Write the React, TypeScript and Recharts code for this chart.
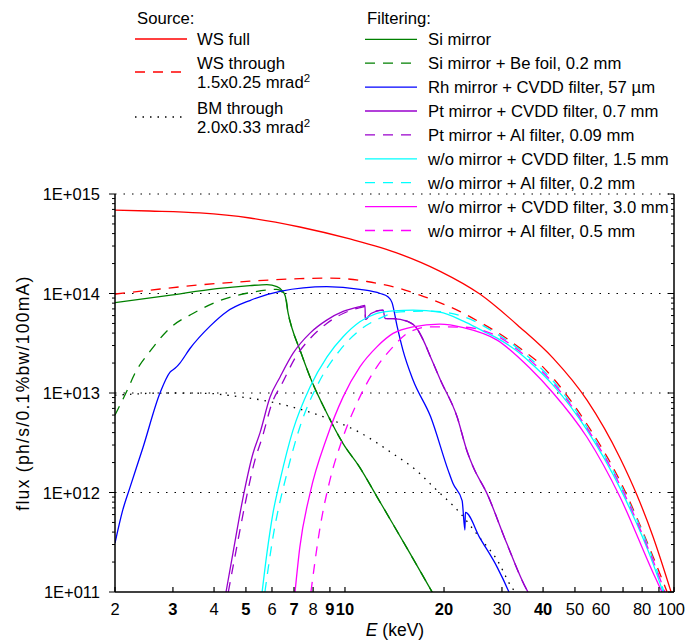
import { LineChart, Line, XAxis, YAxis, ReferenceLine } from 'recharts'

// [photon energy keV, flux ph/s/0.1%bw/100mA]
const wsFull: [number, number][] = [
  [2, 6.9e14], [2.55, 6.75e14], [3.62, 6.45e14], [5.14, 5.74e14], [7.29, 4.66e14], [10.35, 3.53e14],
  [14.7, 2.49e14], [19.4, 1.68e14], [25.7, 9.87e13], [34, 4.59e13], [42.9, 2.24e13], [54.4, 8.47e12],
  [68.6, 2.21e12], [77.2, 9.38e11], [86.3, 3.62e11], [98, 1.0e11],
]
const wsThrough: [number, number][] = [
  [2, 9.87e13], [2.55, 1.08e14], [3.62, 1.22e14], [5.14, 1.33e14], [7.29, 1.41e14], [9, 1.43e14],
  [11.67, 1.32e14], [14.7, 1.12e14], [16.9, 9.64e13], [19.4, 8.1e13], [22.4, 6.58e13], [25.7, 5.15e13],
  [29.6, 3.91e13], [34, 2.83e13], [39.2, 1.95e13], [42.9, 1.41e13], [54.4, 4.85e12], [68.6, 1.3e12],
  [86.3, 2.28e11], [95.3, 1.0e11],
]
const bmThrough: [number, number][] = [
  [2, 9.5e12], [2.88, 1.0e13], [3.89, 9.9e12], [4.38, 9.5e12], [5.79, 8.3e12], [6.95, 7.2e12],
  [8.8, 5.6e12], [11.1, 4.0e12], [14, 2.45e12], [16.5, 1.66e12], [18.5, 1.15e12], [22.4, 6.2e11],
  [25.7, 3.5e11], [29, 2.1e11], [32.2, 1.1e11], [32.9, 1.0e11],
]
const siMirror: [number, number][] = [
  [2, 8.1e13], [2.88, 9.5e13], [4.08, 1.12e14], [5.14, 1.2e14], [5.79, 1.23e14], [6.21, 1.17e14],
  [6.44, 1.07e14], [6.58, 9.5e13], [6.72, 6.3e13], [6.9, 4.5e13], [7.3, 2.7e13], [7.83, 1.45e13],
  [8.8, 6.3e12], [9.87, 3.1e12], [11.1, 1.78e12], [12.5, 9.1e11], [14, 4.8e11], [15.7, 2.5e11],
  [18.4, 1.0e11],
]
const siBe: [number, number][] = [
  [2, 6.0e12], [2.18, 1.07e13], [2.3, 1.58e13], [2.55, 2.6e13], [2.94, 4.5e13], [3.45, 6.3e13],
  [4.17, 8.5e13], [5.14, 1.02e14], [6.21, 1.1e14], [6.5, 1.0e14], [6.6, 9.3e13], [6.72, 6.3e13],
  [6.9, 4.5e13], [7.3, 2.7e13], [7.83, 1.45e13], [8.8, 6.3e12], [9.87, 3.1e12], [11.1, 1.78e12],
  [12.5, 9.1e11], [14, 4.8e11], [15.7, 2.5e11], [18.4, 1.0e11],
]
const rhCvdd: [number, number][] = [
  [2, 3.1e11], [2.11, 6.6e11], [2.22, 1.12e12], [2.43, 2.8e12], [2.74, 1.0e13], [2.94, 1.62e13],
  [3.05, 1.78e13], [3.15, 2.0e13], [3.38, 2.8e13], [3.89, 4.7e13], [4.38, 6.6e13], [5.14, 8.5e13],
  [6.35, 1.05e14], [8.8, 1.17e14], [11.1, 1.1e14], [12.8, 1.0e14], [13.5, 9.3e13], [13.9, 8.1e13],
  [14.4, 4.7e13], [15, 2.7e13], [16.1, 1.35e13], [18.2, 5.8e12], [20.6, 1.66e12], [21.3, 1.23e12],
  [22.7, 8.3e11], [23.15, 4.2e11], [23.22, 6.3e11], [25.7, 3.5e11], [29, 1.78e11], [31.3, 1.05e11],
  [31.5, 1.0e11],
]
const ptCvdd: [number, number][] = [
  [4.35, 1.0e11], [4.57, 2.5e11], [4.9, 8.9e11], [5.25, 2.45e12], [5.52, 4.0e12], [5.92, 9.1e12],
  [6.35, 1.45e13], [6.95, 2.5e13], [7.83, 4.0e13], [8.8, 5.4e13], [9.87, 6.6e13], [11.1, 7.4e13],
  [11.5, 7.6e13], [11.54, 5.5e13], [12, 6.3e13], [13.05, 6.8e13], [13.25, 5.6e13], [14, 5.6e13],
  [15.5, 5.25e13], [16.5, 4.5e13], [17.3, 3.4e13], [18.2, 2.3e13], [19.5, 1.35e13], [21.9, 5.8e12],
  [23.5, 2.6e12], [24.5, 1.82e12], [27, 9.8e11], [31, 3.1e11], [35.7, 1.05e11], [36, 1.0e11],
]
const ptAl: [number, number][] = [
  [4.42, 1.0e11], [4.65, 2.45e11], [4.98, 7.9e11], [5.33, 2.14e12], [5.6, 3.55e12], [6, 7.9e12],
  [6.45, 1.26e13], [7.05, 2.24e13], [7.9, 3.63e13], [8.8, 5.0e13], [9.87, 6.3e13], [11.1, 7.2e13],
  [11.5, 7.4e13], [11.54, 5.5e13], [12, 6.3e13], [13.05, 6.8e13], [13.25, 5.6e13], [14, 5.6e13],
  [15.5, 5.25e13], [16.5, 4.5e13], [17.3, 3.4e13], [18.2, 2.3e13], [19.5, 1.35e13], [21.9, 5.8e12],
  [23.5, 2.6e12], [24.5, 1.82e12], [27, 9.8e11], [31, 3.1e11], [35.7, 1.05e11], [36, 1.0e11],
]
const noneCvdd15: [number, number][] = [
  [5.6, 1.0e11], [5.79, 2.44e11], [6.04, 6.18e11], [6.35, 1.33e12], [6.95, 4.23e12], [7.83, 1.15e13],
  [8.82, 2.31e13], [9.87, 3.67e13], [11.1, 5.19e13], [12.5, 6.31e13], [14, 6.7e13], [16.1, 6.81e13],
  [19.4, 6.5e13], [22.9, 5.28e13], [26.3, 4.19e13], [29, 3.56e13], [33.3, 2.64e13], [36.5, 2.04e13],
  [42.9, 1.2e13], [54.4, 4.23e12], [68.6, 1.1e12], [86.3, 1.94e11], [92.6, 1.0e11],
]
const noneAl02: [number, number][] = [
  [5.71, 1.0e11], [6.04, 3.54e11], [6.66, 1.56e12], [7.29, 4.53e12], [8.4, 1.35e13], [9.66, 2.7e13],
  [11.1, 4.29e13], [12.8, 5.66e13], [14.7, 6.55e13], [18.1, 6.65e13], [22.9, 5.86e13], [29, 3.91e13],
  [36.5, 2.24e13], [42.9, 1.32e13], [54.4, 4.53e12], [68.6, 1.21e12], [86.3, 2.13e11], [93.3, 1.0e11],
]
const noneCvdd30: [number, number][] = [
  [7.05, 1.0e11], [7.29, 2.81e11], [7.83, 9.82e11], [8.82, 3.61e12], [9.87, 9.14e12], [11.1, 1.83e13],
  [12.5, 2.91e13], [14, 3.97e13], [16.1, 4.63e13], [19.4, 4.92e13], [22.9, 4.54e13], [29, 3.4e13],
  [36.5, 1.77e13], [42.9, 1.0e13], [54.4, 3.59e12], [68.6, 8.95e11], [86.3, 1.57e11], [91.9, 1.0e11],
]
const noneAl05: [number, number][] = [
  [7.88, 1.0e11], [8.4, 4.47e11], [9, 1.33e12], [9.87, 3.61e12], [11.1, 9.14e12], [12.5, 1.83e13],
  [14, 2.91e13], [15.5, 4.0e13], [18.1, 4.63e13], [22.9, 4.59e13], [29, 3.73e13], [36.5, 2.14e13],
  [42.9, 1.26e13], [54.4, 4.43e12], [68.6, 1.18e12], [86.3, 2.08e11], [93.9, 1.0e11],
]

const xTicks = [2, 3, 4, 5, 6, 7, 8, 9, 10, 20, 30, 40, 50, 60, 70, 80, 90, 100]
const xLabels: Record<number, string> = {
  2: '2', 3: '3', 4: '4', 5: '5', 6: '6', 7: '7', 8: '8', 9: '9', 10: '10',
  20: '20', 30: '30', 40: '40', 50: '50', 60: '60', 80: '80', 100: '100',
}
const xBold = [3, 5, 7, 9, 10, 20, 40]
const decades = [1e11, 1e12, 1e13, 1e14, 1e15]
const decadeLabels = ['1E+011', '1E+012', '1E+013', '1E+014', '1E+015']
const minorSteps = [2, 3, 4, 5, 6, 7, 8, 9]
const yTicks = [
  ...decades,
  ...decades.slice(0, 4).flatMap((d) => minorSteps.map((m) => d * m)),
].sort((a, b) => a - b)

const RED = '#ff0000'
const GREEN = '#008000'
const BLUE = '#0000ff'
const PURPLE = '#9900cc'
const CYAN = '#00ffff'
const MAGENTA = '#ff00ff'
const DASH = '10 8'
const DOTS = '1.5 6'
const FONT = '"Liberation Sans", Arial, sans-serif'

const series = [
  { key: 'wsFull', data: wsFull, color: RED, dash: undefined },
  { key: 'wsThrough', data: wsThrough, color: RED, dash: DASH },
  { key: 'bmThrough', data: bmThrough, color: '#000', dash: DOTS },
  { key: 'siMirror', data: siMirror, color: GREEN, dash: undefined },
  { key: 'siBe', data: siBe, color: GREEN, dash: DASH },
  { key: 'rhCvdd', data: rhCvdd, color: BLUE, dash: undefined },
  { key: 'ptAl', data: ptAl, color: PURPLE, dash: DASH },
  { key: 'ptCvdd', data: ptCvdd, color: PURPLE, dash: undefined },
  { key: 'noneCvdd15', data: noneCvdd15, color: CYAN, dash: undefined },
  { key: 'noneAl02', data: noneAl02, color: CYAN, dash: DASH },
  { key: 'noneCvdd30', data: noneCvdd30, color: MAGENTA, dash: undefined },
  { key: 'noneAl05', data: noneAl05, color: MAGENTA, dash: DASH },
]

const sourceLegend = [
  { lines: ['WS full'], color: RED, dash: undefined, y: 39 },
  { lines: ['WS through', '1.5x0.25 mrad'], color: RED, dash: DASH, y: 72 },
  { lines: ['BM through', '2.0x0.33 mrad'], color: '#000', dash: DOTS, y: 117 },
]
const filterLegend = [
  { label: 'Si mirror', color: GREEN, dash: undefined },
  { label: 'Si mirror + Be foil, 0.2 mm', color: GREEN, dash: DASH },
  { label: 'Rh mirror + CVDD filter, 57 µm', color: BLUE, dash: undefined },
  { label: 'Pt mirror + CVDD filter, 0.7 mm', color: PURPLE, dash: undefined },
  { label: 'Pt mirror + Al filter, 0.09 mm', color: PURPLE, dash: DASH },
  { label: 'w/o mirror + CVDD filter, 1.5 mm', color: CYAN, dash: undefined },
  { label: 'w/o mirror + Al filter, 0.2 mm', color: CYAN, dash: DASH },
  { label: 'w/o mirror + CVDD filter, 3.0 mm', color: MAGENTA, dash: undefined },
  { label: 'w/o mirror + Al filter, 0.5 mm', color: MAGENTA, dash: DASH },
]

const toPoints = (pairs: [number, number][]) => pairs.map(([E, F]) => ({ E, F }))

// ticks point up into the plot, labels sit below the axis
const XTick = ({ x, y, payload }: any) => {
  const v = payload.value
  const label = xLabels[v]
  const last = v === 100
  return (
    <g>
      <line x1={x} x2={x} y1={y} y2={y - 5} stroke="#000" strokeWidth={1.2} />
      {label && (
        <text x={last ? x + 11 : x} y={y + 23} textAnchor={last ? 'end' : 'middle'} fontSize={16.5}
          fontFamily={FONT} fontWeight={xBold.includes(v) ? 'bold' : 'normal'} fill="#000">
          {label}
        </text>
      )}
    </g>
  )
}

const YTickLeft = ({ x, y, payload }: any) => {
  const idx = decades.indexOf(payload.value)
  const major = idx >= 0
  return (
    <g>
      <line x1={x} x2={x - (major ? 6 : 3)} y1={y} y2={y} stroke="#000" strokeWidth={1} />
      {major && (
        <text x={x - 15} y={y + 6} textAnchor="end" fontSize={16.5} fontFamily={FONT} fill="#000">
          {decadeLabels[idx]}
        </text>
      )}
    </g>
  )
}

const YTickRight = ({ x, y, payload }: any) => {
  const major = decades.includes(payload.value)
  return <line x1={x} x2={x - (major ? 6 : 3)} y1={y} y2={y} stroke="#000" strokeWidth={1} />
}

export default function App() {
  return (
    <div style={{ position: 'absolute', left: 0, top: 0, width: 686, height: 641, background: '#fff' }}>
      <LineChart width={686} height={641} margin={{ top: 194, right: 0, bottom: 0, left: 0 }}>
        <XAxis dataKey="E" type="number" scale="log" domain={[2, 100]} allowDataOverflow
          ticks={xTicks} interval={0} tickSize={0} tickMargin={0} tick={XTick}
          axisLine={{ stroke: '#000', strokeWidth: 1.5 }} height={49} />
        <YAxis yAxisId="l" type="number" scale="log" domain={[1e11, 1e15]} allowDataOverflow
          ticks={yTicks} interval={0} tickSize={0} tickMargin={0} tick={YTickLeft}
          axisLine={{ stroke: '#000', strokeWidth: 1.5 }} width={115} />
        <YAxis yAxisId="r" orientation="right" type="number" scale="log" domain={[1e11, 1e15]} allowDataOverflow
          ticks={yTicks} interval={0} tickSize={0} tickMargin={0} tick={YTickRight}
          axisLine={{ stroke: '#000', strokeWidth: 1.5 }} width={12} />
        {decades.slice(1).map((d) => (
          <ReferenceLine key={d} yAxisId="l" y={d} stroke="#000" strokeDasharray="1.5 7" strokeWidth={1.2} />
        ))}
        {series.map((s) => (
          <Line key={s.key} yAxisId="l" data={toPoints(s.data)} dataKey="F" type="monotone"
            stroke={s.color} strokeWidth={1.3} strokeDasharray={s.dash} dot={false}
            isAnimationActive={false} />
        ))}
      </LineChart>

      <svg width={686} height={641} style={{ position: 'absolute', left: 0, top: 0, pointerEvents: 'none' }}
        fontFamily={FONT} fontSize={16.7} fill="#000">
        <text x={137} y={24}>Source:</text>
        {sourceLegend.map((it) => (
          <g key={it.lines[0]}>
            <line x1={135} x2={187} y1={it.y} y2={it.y} stroke={it.color} strokeWidth={1.3}
              strokeDasharray={it.dash} />
            {it.lines.length === 1 ? (
              <text x={197} y={it.y + 6}>{it.lines[0]}</text>
            ) : (
              <>
                <text x={197} y={it.y - 3}>{it.lines[0]}</text>
                <text x={197} y={it.y + 16}>
                  {it.lines[1]}
                  <tspan dy={-6} fontSize={11.5}>2</tspan>
                </text>
              </>
            )}
          </g>
        ))}
        <text x={367} y={24}>Filtering:</text>
        {filterLegend.map((it, i) => {
          const y = 39.3 + i * 23.9
          return (
            <g key={it.label}>
              <line x1={365} x2={417} y1={y} y2={y} stroke={it.color} strokeWidth={1.3}
                strokeDasharray={it.dash} />
              <text x={428} y={y + 6}>{it.label}</text>
            </g>
          )
        })}
        <text transform="translate(29,393) rotate(-90)" textAnchor="middle" fontSize={17.5} letterSpacing={1.3}>
          flux (ph/s/0.1%bw/100mA)
        </text>
        <text x={395} y={636} textAnchor="middle" fontSize={17.5}>
          <tspan fontStyle="italic">E</tspan> (keV)
        </text>
      </svg>
    </div>
  )
}
